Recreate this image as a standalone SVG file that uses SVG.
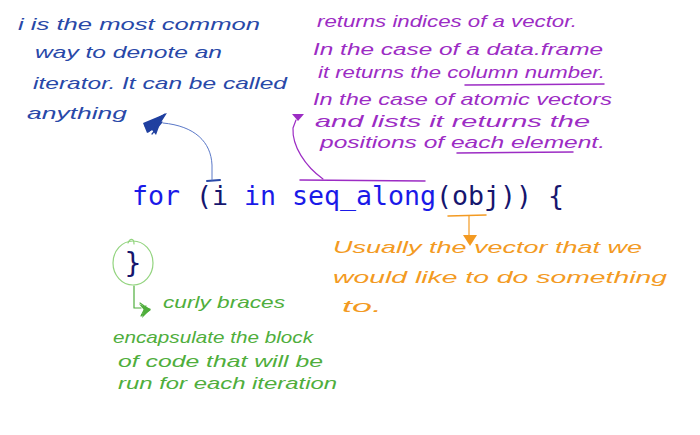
<svg xmlns="http://www.w3.org/2000/svg" width="700" height="435" viewBox="0 0 700 435">
<style>
.hw{font-family:"Liberation Sans","DejaVu Sans",sans-serif;font-style:italic;font-size:17px}
.blue{fill:#2848a8}
.purple{fill:#9c2cc4}
.orange{fill:#f39a22}
.green{fill:#4fae3c}
.code{font-family:"DejaVu Sans Mono","Liberation Mono",monospace;font-size:26.6px}
.kw{fill:#1a1ae8}
.pn{fill:#16166e}
.ln{fill:none;stroke-linecap:round;stroke-linejoin:round}
</style>
<rect width="700" height="435" fill="#ffffff"/>
<g id="code" class="code">
<text class="kw" x="132" y="205">for</text>
<text class="pn" x="196" y="205">(i</text>
<text class="kw" x="244" y="205">in</text>
<text class="kw" x="292" y="205">seq_along</text>
<text class="pn" x="436" y="205">(obj)) {</text>
</g>
<g id="note-i" class="hw blue">
<text x="18" y="30" textLength="242" lengthAdjust="spacingAndGlyphs">i is the most common</text>
<text x="35" y="58" textLength="187" lengthAdjust="spacingAndGlyphs">way to denote an</text>
<text x="33" y="89" textLength="254" lengthAdjust="spacingAndGlyphs">iterator. It can be called</text>
<text x="27" y="119" textLength="100" lengthAdjust="spacingAndGlyphs">anything</text>
</g>
<g id="note-seq" class="hw purple">
<text x="317" y="27" textLength="260" lengthAdjust="spacingAndGlyphs">returns indices of a vector.</text>
<text x="313" y="55" textLength="290" lengthAdjust="spacingAndGlyphs">In the case of a data.frame</text>
<text x="318" y="78" textLength="287" lengthAdjust="spacingAndGlyphs">it returns the column number.</text>
<text x="313" y="105" textLength="299" lengthAdjust="spacingAndGlyphs">In the case of atomic vectors</text>
<text x="315" y="127" textLength="275" lengthAdjust="spacingAndGlyphs">and lists it returns the</text>
<text x="320" y="148" textLength="285" lengthAdjust="spacingAndGlyphs">positions of each element.</text>
<path class="ln" d="M465 85 L604 84 M457 153 L573 152" stroke="#9c2cc4" stroke-width="1.5"/>
</g>
<g id="note-obj" class="hw orange">
<text x="333" y="253" textLength="309" lengthAdjust="spacingAndGlyphs">Usually the vector that we</text>
<text x="333" y="283" textLength="334" lengthAdjust="spacingAndGlyphs">would like to do something</text>
<text x="342" y="312" textLength="40" lengthAdjust="spacingAndGlyphs">to.</text>
</g>
<g id="note-brace">
<ellipse cx="133" cy="263" rx="20" ry="22" fill="none" stroke="#93d47f" stroke-width="1.2"/>
<path class="ln" d="M128 243 C130 238 134 238 134 244" stroke="#93d47f" stroke-width="1.2"/>
<text x="133" y="273" text-anchor="middle" font-family="DejaVu Sans Mono,monospace" font-size="28" fill="#16166e">}</text>
<g class="hw green">
<text x="163" y="308" textLength="122" lengthAdjust="spacingAndGlyphs">curly braces</text>
<text x="113" y="343" textLength="200" lengthAdjust="spacingAndGlyphs">encapsulate the block</text>
<text x="118" y="367" textLength="205" lengthAdjust="spacingAndGlyphs">of code that will be</text>
<text x="118" y="389" textLength="219" lengthAdjust="spacingAndGlyphs">run for each iteration</text>
</g>
</g>
<g id="connectors">
<path class="ln" d="M207 181 L220 180" stroke="#2848a8" stroke-width="2"/>
<path class="ln" d="M212 180 L212 165 C211 142 195 126 163 123" stroke="#5a78c8" stroke-width="1"/>
<path d="M167 113 L143 123 L147 133 L152 130 L156 135 L160 124 Z" fill="#2040a0"/>
<path class="ln" d="M165 114 L145 126 L160 120 L148 132 L162 122 L152 134" stroke="#2040a0" stroke-width="1.2"/>
<path class="ln" d="M300 180 L425 181" stroke="#9c2cc4" stroke-width="1.5"/>
<path class="ln" d="M323 179 C305 166 292 146 293 128 L296 120" stroke="#9c2cc4" stroke-width="1.2"/>
<path d="M292 114 L304 114 L298 121 Z" fill="#9c2cc4"/>
<path class="ln" d="M448 216 L486 215" stroke="#f39a22" stroke-width="1.5"/>
<path class="ln" d="M469 216 L469 235" stroke="#f39a22" stroke-width="1.2"/>
<path d="M463 235 L477 235 L470 246 Z" fill="#f39a22"/>
<path class="ln" d="M134 286 L134 308 L141 308" stroke="#4fae3c" stroke-width="1.2"/>
<path d="M139 304 L151 309 L142 318 L144 310 Z" fill="#4fae3c"/>
<path class="ln" d="M140 303 L150 310 L141 316 L146 306 L143 313" stroke="#4fae3c" stroke-width="1.2"/>
</g>
</svg>
